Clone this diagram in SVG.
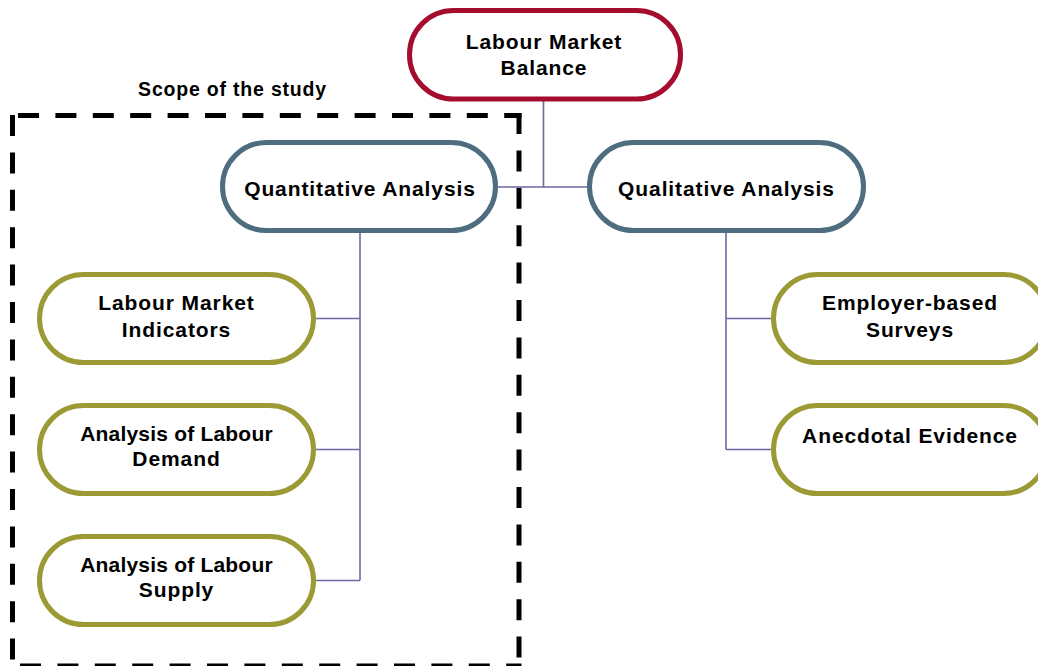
<svg xmlns="http://www.w3.org/2000/svg" width="1038" height="666" viewBox="0 0 1038 666">
  <style>
    .node { fill: #ffffff; stroke-width: 5; }
    .root { stroke: #A50D2E; }
    .branch { stroke: #4E6E80; }
    .leaf { stroke: #9B9A35; }
    .label { font-family: "Liberation Sans", Arial, Helvetica, sans-serif; font-weight: bold; font-size: 21px; letter-spacing: 0.9px; fill: #000000; text-anchor: middle; }
    .tight { letter-spacing: 0.2px; }
    .scope { font-size: 19.5px; letter-spacing: 0.8px; }
    .conn { stroke: #6B6AA0; stroke-width: 1.6; fill: none; }
    .dash { stroke: #000000; stroke-width: 5; fill: none; stroke-dasharray: 21 16.4; stroke-linecap: butt; }
  </style>
  <rect width="1038" height="666" fill="#ffffff"/>

  <!-- boundary of the study scope -->
  <g id="scope-box">
    <line class="dash" x1="12.5" y1="115" x2="12.5" y2="666"/>
    <line class="dash" x1="12.5" y1="115.5" x2="521.5" y2="115.5" stroke-dashoffset="-5.5"/>
    <line class="dash" x1="519" y1="113" x2="519" y2="666"/>
    <line class="dash" x1="12.5" y1="666" x2="521.5" y2="666" stroke-dashoffset="-7.5"/>
    <text class="label scope" x="232.5" y="96">Scope of the study</text>
  </g>

  <!-- connectors -->
  <g id="connectors">
    <path class="conn" d="M543.5 101 V187 M498 187 H587"/>
    <path class="conn" d="M360 233 V580.5 M316 318.5 H360 M316 449.5 H360 M316 580.5 H360"/>
    <path class="conn" d="M726 233 V449.5 M726 318.5 H771 M726 449.5 H771"/>
  </g>

  <g id="labour-market-balance">
    <rect class="node root" x="409.5" y="10.5" width="271" height="88.5" rx="44" ry="44"/>
    <text class="label" x="544" y="49">Labour Market</text>
    <text class="label" x="544" y="75">Balance</text>
  </g>

  <g id="quantitative-analysis">
    <rect class="node branch" x="222.5" y="142.5" width="273" height="88" rx="44" ry="44"/>
    <text class="label" x="360" y="195.5">Quantitative Analysis</text>
  </g>

  <g id="qualitative-analysis">
    <rect class="node branch" x="589.5" y="142.5" width="274" height="88" rx="44" ry="44"/>
    <text class="label" x="726.5" y="195.5">Qualitative Analysis</text>
  </g>

  <g id="labour-market-indicators">
    <rect class="node leaf" x="39.5" y="274.5" width="274" height="88" rx="44" ry="44"/>
    <text class="label" x="176.5" y="310">Labour Market</text>
    <text class="label" x="176.5" y="336.5">Indicators</text>
  </g>

  <g id="labour-demand">
    <rect class="node leaf" x="39.5" y="405.5" width="274" height="88" rx="44" ry="44"/>
    <text class="label tight" x="176.5" y="441">Analysis of Labour</text>
    <text class="label" x="176.5" y="466">Demand</text>
  </g>

  <g id="labour-supply">
    <rect class="node leaf" x="39.5" y="536.5" width="274" height="88" rx="44" ry="44"/>
    <text class="label tight" x="176.5" y="572">Analysis of Labour</text>
    <text class="label" x="176.5" y="597">Supply</text>
  </g>

  <g id="employer-surveys">
    <rect class="node leaf" x="773.5" y="274.5" width="274" height="88" rx="44" ry="44"/>
    <text class="label" x="910" y="310">Employer-based</text>
    <text class="label" x="910" y="336.5">Surveys</text>
  </g>

  <g id="anecdotal-evidence">
    <rect class="node leaf" x="773.5" y="405.5" width="274" height="88" rx="44" ry="44"/>
    <text class="label" x="910" y="442.5">Anecdotal Evidence</text>
  </g>
</svg>
